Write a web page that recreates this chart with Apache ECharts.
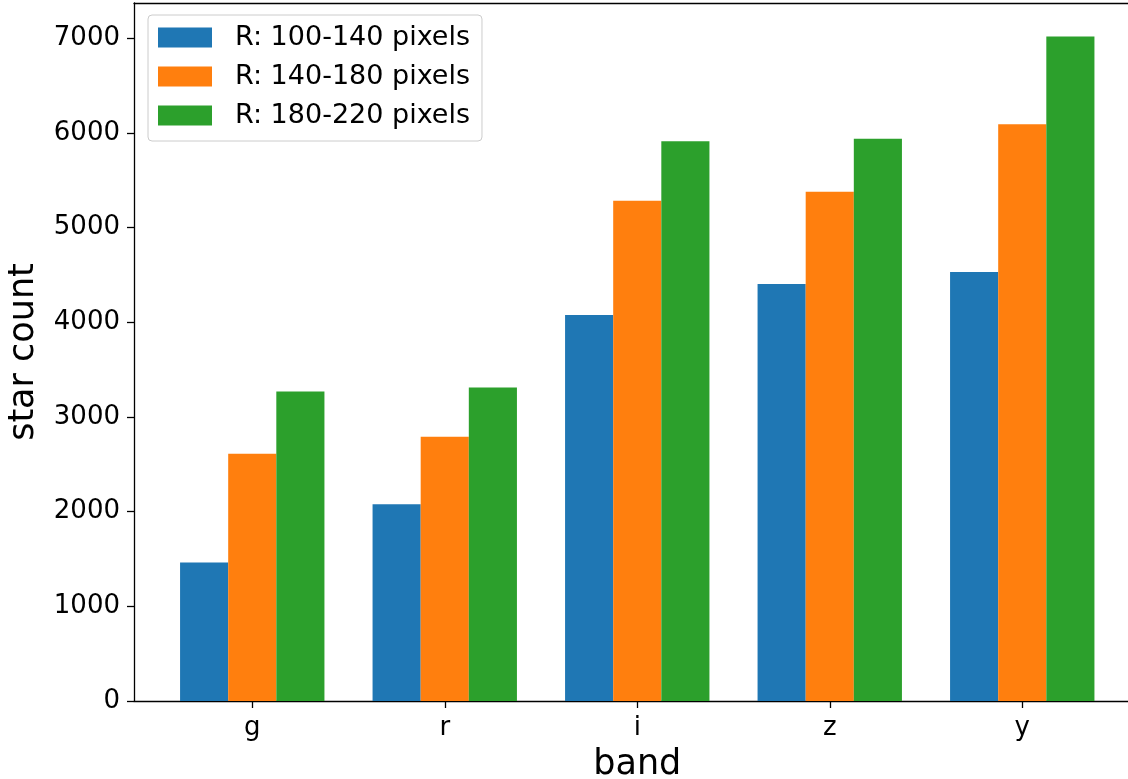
<!DOCTYPE html>
<html>
<head>
<meta charset="utf-8">
<script src="https://cdn.jsdelivr.net/npm/echarts@6/dist/echarts.min.js"></script>
<style>html,body{margin:0;padding:0;background:#fff;}#c{width:1128px;height:779px;}</style>
</head>
<body>
<div id="c"></div>
<script>
const categories = ['g', 'r', 'i', 'z', 'y'];
const seriesNames = ['R: 100-140 pixels', 'R: 140-180 pixels', 'R: 180-220 pixels'];
const r100_140 = [1463, 2078, 4076, 4403, 4530];
const r140_180 = [2610, 2789, 5282, 5377, 6091];
const r180_220 = [3267, 3309, 5911, 5936, 7015];
const yTicks = [0, 1000, 2000, 3000, 4000, 5000, 6000, 7000];

const colors = ['#1f77b4', '#ff7f0e', '#2ca02c'];
const FONT = 'DejaVu Sans';
const YMAX = 7370;

const chart = echarts.init(document.getElementById('c'), null, {renderer: 'canvas'});
const values = [r100_140, r140_180, r180_220];

chart.setOption({
  animation: false,
  backgroundColor: '#ffffff',
  textStyle: {fontFamily: FONT},
  grid: [
    {left: 134, top: 3, width: 1006, height: 698, containLabel: false, outerBoundsMode: 'none'},
    {left: 156, top: 3, width: 962.5, height: 698, containLabel: false, outerBoundsMode: 'none'}
  ],
  legend: {
    data: seriesNames,
    orient: 'vertical',
    left: 148,
    top: 15,
    itemWidth: 54,
    itemHeight: 20,
    itemGap: 12,
    padding: [9, 12, 12, 10],
    backgroundColor: 'rgba(255,255,255,0.8)',
    borderColor: '#cccccc',
    borderWidth: 1,
    borderRadius: 4,
    icon: 'rect',
    textStyle: {fontFamily: FONT, fontSize: 27, color: '#000', padding: [0, 0, 0, 18]}
  },
  xAxis: [
    {type: 'value', gridIndex: 0, min: 0, max: 1, position: 'bottom',
      axisLine: {show: true, lineStyle: {color: '#000', width: 1.3}},
      axisTick: {show: false}, axisLabel: {show: false}, splitLine: {show: false}},
    {type: 'value', gridIndex: 0, min: 0, max: 1, position: 'top',
      axisLine: {show: true, lineStyle: {color: '#000', width: 1.3}},
      axisTick: {show: false}, axisLabel: {show: false}, splitLine: {show: false}},
    {type: 'category', gridIndex: 1, data: categories, position: 'bottom',
      boundaryGap: true,
      axisLine: {show: false},
      axisTick: {show: true, alignWithLabel: true, length: 7, lineStyle: {color: '#000', width: 1.3}},
      axisLabel: {color: '#000', fontSize: 26, fontFamily: FONT, margin: 14},
      name: 'band', nameLocation: 'middle', nameGap: 46,
      nameTextStyle: {fontSize: 35, fontFamily: FONT, color: '#000'},
      splitLine: {show: false}}
  ],
  yAxis: [
    {type: 'value', gridIndex: 0, min: 0, max: YMAX, interval: 1000,
      axisLine: {show: true, lineStyle: {color: '#000', width: 1.3}},
      axisTick: {show: true, length: 7, lineStyle: {color: '#000', width: 1.3}},
      axisLabel: {color: '#000', fontSize: 26, fontFamily: FONT, margin: 14, showMaxLabel: false,
        formatter: v => (yTicks.indexOf(v) >= 0 ? String(v) : '')},
      name: 'star count', nameLocation: 'middle', nameGap: 93, nameRotate: 90,
      nameTextStyle: {fontSize: 35, fontFamily: FONT, color: '#000'},
      splitLine: {show: false}},
    {type: 'value', gridIndex: 1, min: 0, max: YMAX, show: false, splitLine: {show: false}}
  ],
  series: seriesNames.map((name, i) => ({
    name: name,
    type: 'bar',
    xAxisIndex: 2,
    yAxisIndex: 1,
    data: values[i],
    barWidth: '25%',
    barGap: '0%',
    itemStyle: {color: colors[i]}
  }))
});
</script>
</body>
</html>
